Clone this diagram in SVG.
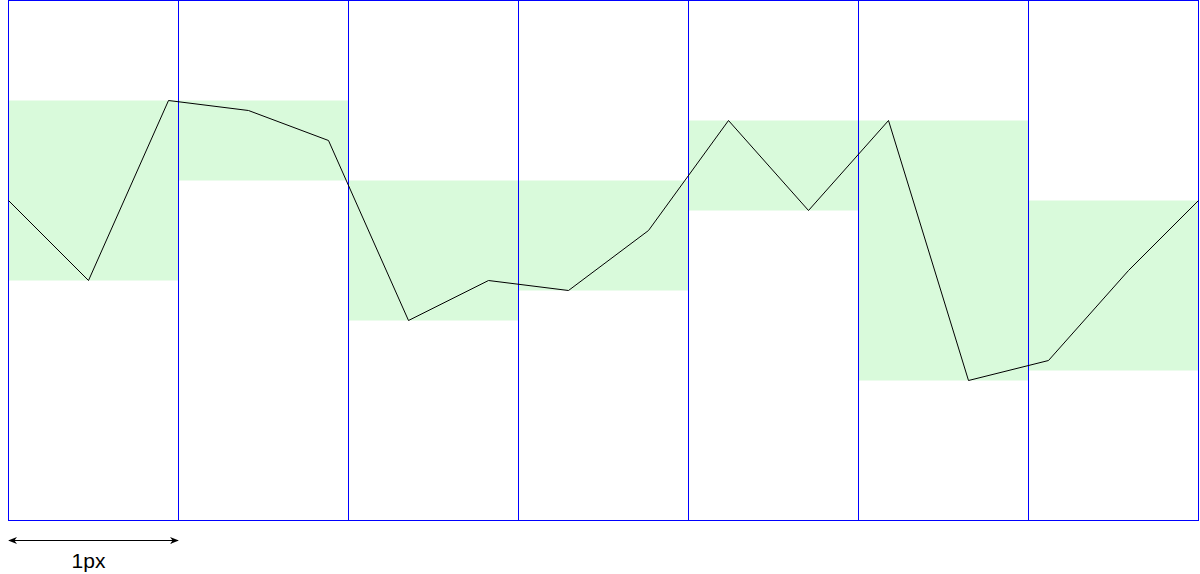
<svg xmlns="http://www.w3.org/2000/svg" width="1200" height="574" viewBox="0 0 1200 574">
<defs>
<style>
.band{fill:#d9fadb;stroke:none}
.cell{fill:none;stroke:#0000ff;stroke-width:1}
.curve{fill:none;stroke:#000000;stroke-width:1}
.dim{stroke:#000000;stroke-width:1;fill:none}
.lbl{font-family:"Liberation Sans",Arial,sans-serif;font-size:21px;fill:#000000}
</style>
<marker id="ah" viewBox="0 0 10 10" refX="9" refY="5" markerWidth="9" markerHeight="9" orient="auto-start-reverse" markerUnits="userSpaceOnUse">
<path d="M0,1 L10,5 L0,9 L3,5 Z" fill="#000"/>
</marker>
</defs>
<rect width="1200" height="574" fill="#ffffff"/>
<g id="bands">
<rect class="band" x="8.5" y="100.5" width="170" height="180"/>
<rect class="band" x="178.5" y="100.5" width="170" height="80"/>
<rect class="band" x="348.5" y="180.5" width="170" height="140"/>
<rect class="band" x="518.5" y="180.5" width="170" height="110"/>
<rect class="band" x="688.5" y="120.5" width="170" height="90"/>
<rect class="band" x="858.5" y="120.5" width="170" height="260"/>
<rect class="band" x="1028.5" y="200.5" width="170" height="170"/>
</g>
<g id="grid">
<rect class="cell" x="8.5" y="0.5" width="170" height="520"/>
<rect class="cell" x="178.5" y="0.5" width="170" height="520"/>
<rect class="cell" x="348.5" y="0.5" width="170" height="520"/>
<rect class="cell" x="518.5" y="0.5" width="170" height="520"/>
<rect class="cell" x="688.5" y="0.5" width="170" height="520"/>
<rect class="cell" x="858.5" y="0.5" width="170" height="520"/>
<rect class="cell" x="1028.5" y="0.5" width="170" height="520"/>
</g>
<g id="connectors">
<polyline class="curve" points="8.5,200.5 88.5,280.5 168.5,100.5 248.5,110.5 328.5,140.5 408.5,320.5 488.5,280.5 568.5,290.5 648.5,230.5 728.5,120.5 808.5,210.5 888.5,120.5 968.5,380.5 1048.5,360.5 1128.5,270.5 1198.5,200.5"/>
<line class="dim" x1="9" y1="540.5" x2="178" y2="540.5" marker-start="url(#ah)" marker-end="url(#ah)"/>
</g>
<g id="label">
<text class="lbl" x="88.5" y="568" text-anchor="middle">1px</text>
</g>
</svg>
